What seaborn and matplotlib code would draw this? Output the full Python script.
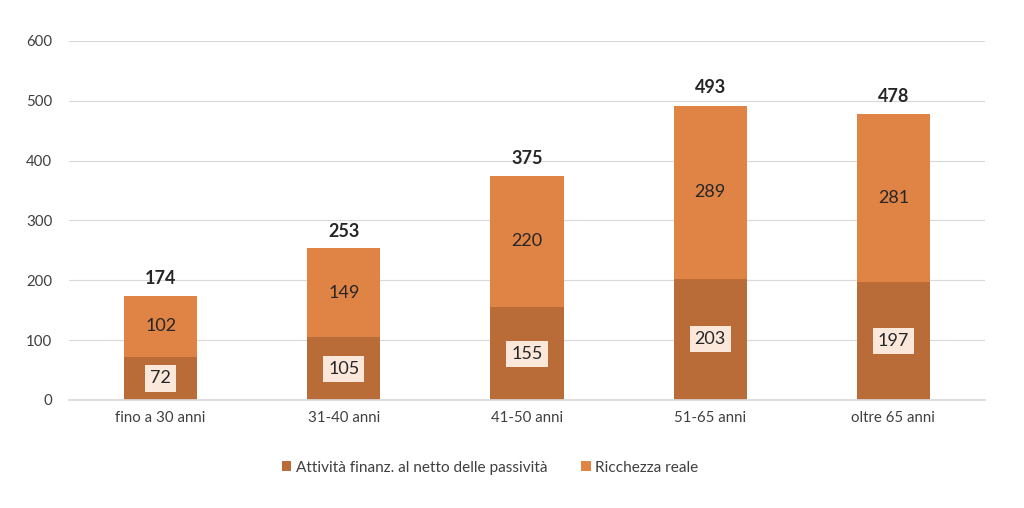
import pandas as pd
import matplotlib.pyplot as plt
import seaborn as sns

categories = ['fino a 30 anni', '31-40 anni', '41-50 anni', '51-65 anni', 'oltre 65 anni']
attivita = [72, 105, 155, 203, 197]
ricchezza = [102, 149, 220, 289, 281]
totali = [174, 253, 375, 493, 478]

dark = '#B96B38'
light = '#E08446'
txt = '#262626'

sns.set_theme(style='white')
plt.rcParams['font.family'] = ['Lato', 'DejaVu Sans']

df = pd.DataFrame({'cat': categories, 'att': attivita, 'ric': ricchezza, 'tot': totali})

fig = plt.figure(figsize=(10.24, 5.08), dpi=100)
ax = fig.add_axes([0.0674, 0.2126, 0.8945, 0.7067])

sns.barplot(data=df, x='cat', y='att', color=dark, width=0.4, saturation=1,
            linewidth=0, ax=ax, label='Attività finanz. al netto delle passività')
sns.barplot(data=df, x='cat', y='ric', color=light, width=0.4, saturation=1,
            linewidth=0, bottom=df['att'], ax=ax, label='Ricchezza reale')

for i, row in df.iterrows():
    ax.text(i, row['att'] / 2, str(row['att']), ha='center', va='center',
            fontsize=13, color=txt,
            bbox=dict(boxstyle='square,pad=0.28', fc='#FBE8DB', ec='none'))
    ax.text(i, row['att'] + row['ric'] / 2, str(row['ric']), ha='center', va='center',
            fontsize=13, color=txt)
    ax.text(i, row['tot'] + 15, str(row['tot']), ha='center', va='bottom',
            fontsize=13, fontweight='bold', color=txt)

ax.set_ylim(0, 600)
ax.set_yticks(range(0, 601, 100))
ax.set_xlim(-0.5, 4.5)
ax.yaxis.grid(True, color='#D9D9D9', linewidth=0.8)
ax.set_axisbelow(True)
for s in ['top', 'right', 'left']:
    ax.spines[s].set_visible(False)
ax.spines['bottom'].set_color('#D9D9D9')
ax.tick_params(axis='both', length=0, labelsize=10.8, colors='#404040')
ax.tick_params(axis='y', pad=12)
ax.tick_params(axis='x', pad=8)
ax.set_xlabel('')
ax.set_ylabel('')

ax.legend(loc='upper center', bbox_to_anchor=(0.46, -0.13), ncol=2, frameon=False,
          fontsize=11.1, handlelength=0.6, handleheight=0.6, columnspacing=2.2,
          handletextpad=0.3, labelcolor='#404040')

plt.savefig('out.png', dpi=100)
plt.close()
